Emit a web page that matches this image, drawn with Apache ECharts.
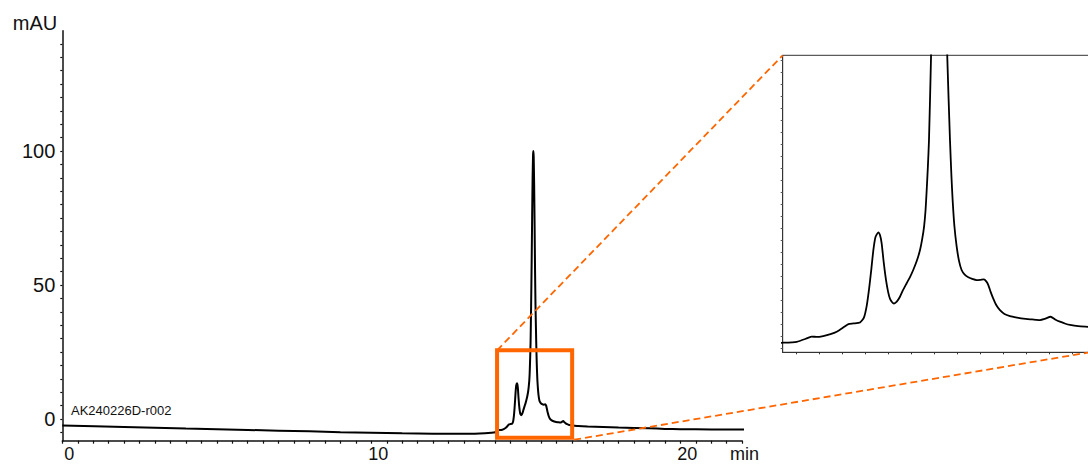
<!DOCTYPE html>
<html><head><meta charset="utf-8">
<script src="https://cdn.jsdelivr.net/npm/echarts@6/dist/echarts.min.js"></script>
<style>html,body{margin:0;padding:0;background:#fff}#c{width:1088px;height:465px}</style>
</head><body><div id="c"></div>
<script>
// retention time (min)
const timeMin = [0, 2, 4, 6, 8, 9, 10, 11, 12, 13, 13.5, 13.885, 14.007, 14.1, 14.137, 14.18, 14.237, 14.3, 14.354, 14.42,
  14.455, 14.5, 14.556, 14.59, 14.615, 14.637, 14.655, 14.672, 14.69, 14.715, 14.73, 14.744, 14.762, 14.782, 14.8, 14.816,
  14.835, 14.851, 14.875, 14.903, 14.93, 14.961, 14.99, 15.019, 15.05, 15.077, 15.095, 15.112, 15.125, 15.135, 15.145,
  15.155, 15.172, 15.19, 15.205, 15.22, 15.235, 15.245, 15.255, 15.27, 15.285, 15.3, 15.314, 15.337, 15.35, 15.36, 15.375,
  15.395, 15.415, 15.438, 15.465, 15.496, 15.53, 15.569, 15.6, 15.632, 15.652, 15.67, 15.69, 15.713, 15.74, 15.771, 15.81,
  15.858, 15.92, 15.974, 16.05, 16.118, 16.16, 16.211, 16.25, 16.292, 16.34, 16.379, 16.45, 16.535, 16.7, 17, 17.5, 18,
  19, 19.5, 20, 21, 22, 22.15];
// absorbance (mAU)
const absorbance = [-2.46, -2.97, -3.59, -4.10, -4.61, -4.92, -5.12, -5.33, -5.48, -5.53, -5.38, -5.12, -4.96, -4.36, -4.10,
  -4.15, -4.00, -3.69, -3.29, -2.46, -2.0, -1.90, -1.74, -0.92, 1.13, 4.20, 7.27, 10.35, 12.5, 13.32, 12.81, 11.47, 8.30,
  5.33, 3.38, 2.25, 1.64, 1.43, 1.74, 2.56, 3.69, 4.81, 5.84, 7.07, 8.60, 10.35, 12.09, 14.24, 17.0, 20.39, 24.18, 28.79,
  42.11, 59.0, 75.4, 89.8, 98.5, 100.0, 98.0, 87.7, 72.3, 54.9, 42.4, 28.8, 22.6, 18.75, 14.45, 10.96, 8.6, 7.03, 6.25,
  5.81, 5.53, 5.33, 5.38, 5.47, 5.12, 4.51, 3.38, 2.25, 1.13, 0.31, -0.31, -0.66, -0.92, -1.11, -1.23, -1.33, -1.13, -0.78,
  -1.23, -1.61, -1.95, -2.15, -2.36, -2.46, -2.66, -2.82, -2.97, -3.18, -3.48, -3.69, -3.84, -3.89, -3.95, -3.96];

const xTickLabels = [0, 10, 20];
const yTickLabels = [0, 50, 100];
const mainTimeRange = [0, 22];
const mainAbsRange = [-8.1, 144.9];
const zoomBoxTime = [14.07, 16.5];
const zoomBoxAbs = [-6.98, 25.63];
const insetTimeRange = [13.885, 16.55];
const insetAbsRange = [-6.72, 42.88];
const sampleName = 'AK240226D-r002';
const xUnit = 'min';
const yUnit = 'mAU';

const FONT = '"Liberation Sans", Arial, sans-serif';
const ORANGE = '#ff6600';

function steps(a, b, s) { const out = []; for (let v = a; v <= b + 1e-9; v += s) out.push(+v.toFixed(4)); return out; }
const xMinorTicks = steps(0, 22, 0.5);
const yMinorTicks = steps(-5, 140, 5);
const insetXTicks = steps(14.0, 16.4, 0.2);
const insetYTicks = steps(-6, 42, 2);

const trace = timeMin.map((t, i) => [t, absorbance[i]]);
const box = [
  [zoomBoxTime[0], zoomBoxAbs[0]], [zoomBoxTime[1], zoomBoxAbs[0]],
  [zoomBoxTime[1], zoomBoxAbs[1]], [zoomBoxTime[0], zoomBoxAbs[1]], [zoomBoxTime[0], zoomBoxAbs[0]]
];

const chart = echarts.init(document.getElementById('c'), null, { renderer: 'svg' });
const axisDark = '#111';
chart.setOption({
  animation: false,
  backgroundColor: '#fff',
  title: {
    text: sampleName, left: 71, top: 404, padding: 0,
    textStyle: { fontSize: 13, fontWeight: 'normal', color: '#111', fontFamily: FONT }
  },
  grid: [
    { left: 62.3, top: 30.7, right: 345.9, bottom: 24.3, containLabel: false, outerBoundsMode: 'none' },
    { left: 782.7, top: 55.3, width: 307, height: 297, containLabel: false, outerBoundsMode: 'none',
      show: true, borderColor: '#333', borderWidth: 1, backgroundColor: '#fff' }
  ],
  xAxis: [
    { type: 'value', gridIndex: 0, min: mainTimeRange[0], max: mainTimeRange[1],
      name: xUnit, nameLocation: 'end', nameGap: -12,
      nameTextStyle: { fontSize: 18, lineHeight: 17, color: '#111', fontFamily: FONT, verticalAlign: 'top', align: 'left', padding: [5, 0, 0, 0] },
      axisLine: { show: true, onZero: false, lineStyle: { color: axisDark, width: 1.5 } },
      axisTick: { show: true, customValues: xMinorTicks, length: 3, lineStyle: { color: axisDark, width: 1.2 } },
      axisLabel: { customValues: xTickLabels, fontSize: 18, lineHeight: 17, color: '#111', fontFamily: FONT, margin: 5, padding: [0, 0, 0, 14] },
      splitLine: { show: false } },
    { type: 'value', gridIndex: 1, min: insetTimeRange[0], max: insetTimeRange[1],
      axisLine: { show: true, onZero: false, lineStyle: { color: '#333', width: 1 } },
      axisTick: { show: true, customValues: insetXTicks, length: 2, lineStyle: { color: '#333', width: 1 } },
      axisLabel: { show: false }, splitLine: { show: false } }
  ],
  yAxis: [
    { type: 'value', gridIndex: 0, min: mainAbsRange[0], max: mainAbsRange[1],
      name: yUnit, nameLocation: 'end', nameGap: 8,
      nameTextStyle: { fontSize: 20, color: '#111', fontFamily: FONT, align: 'right', verticalAlign: 'middle', padding: [0, 5, 0, 0] },
      axisLine: { show: true, onZero: false, lineStyle: { color: axisDark, width: 1.5 } },
      axisTick: { show: true, customValues: yMinorTicks, length: 2, lineStyle: { color: axisDark, width: 1.2 } },
      axisLabel: { customValues: yTickLabels, fontSize: 20, color: '#111', fontFamily: FONT, margin: 7 },
      splitLine: { show: false } },
    { type: 'value', gridIndex: 1, min: insetAbsRange[0], max: insetAbsRange[1],
      axisLine: { show: true, onZero: false, lineStyle: { color: '#333', width: 1 } },
      axisTick: { show: true, customValues: insetYTicks, length: 2, lineStyle: { color: '#555', width: 1 } },
      axisLabel: { show: false }, splitLine: { show: false } }
  ],
  series: [
    { type: 'line', xAxisIndex: 0, yAxisIndex: 0, data: trace, showSymbol: false, smooth: 0.2, clip: false,
      lineStyle: { color: '#000', width: 2 }, z: 3 },
    { type: 'line', xAxisIndex: 1, yAxisIndex: 1, data: trace, showSymbol: false, smooth: 0.2, clip: true,
      lineStyle: { color: '#000', width: 1.8 }, z: 3 },
    { type: 'line', xAxisIndex: 0, yAxisIndex: 0, data: box, showSymbol: false, clip: false,
      lineStyle: { color: ORANGE, width: 4, join: 'miter', cap: 'square' }, z: 4 }
  ]
});

// dashed connectors from the zoom box to the inset
const boxTL = chart.convertToPixel({ xAxisIndex: 0, yAxisIndex: 0 }, [zoomBoxTime[0], zoomBoxAbs[1]]);
const boxBR = chart.convertToPixel({ xAxisIndex: 0, yAxisIndex: 0 }, [zoomBoxTime[1], zoomBoxAbs[0]]);
const insTL = chart.convertToPixel({ xAxisIndex: 1, yAxisIndex: 1 }, [insetTimeRange[0], insetAbsRange[1]]);
const insBR = chart.convertToPixel({ xAxisIndex: 1, yAxisIndex: 1 }, [insetTimeRange[1], insetAbsRange[0]]);
const dash = { stroke: ORANGE, lineWidth: 1.8, lineDash: [7, 4] };
chart.setOption({
  graphic: [
    { type: 'line', shape: { x1: boxTL[0], y1: boxTL[1], x2: insTL[0], y2: insTL[1] }, style: dash, z: 5 },
    { type: 'line', shape: { x1: boxBR[0] + 2, y1: boxBR[1] + 2, x2: insBR[0], y2: insBR[1] }, style: dash, z: 5 }
  ]
});
</script></body></html>
